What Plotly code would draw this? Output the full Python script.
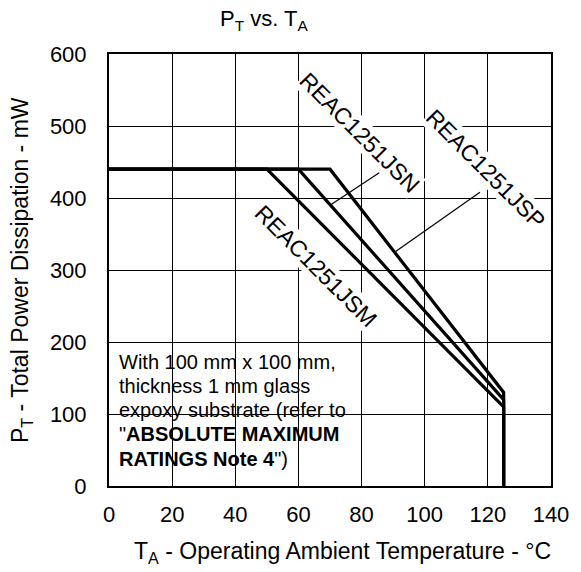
import plotly.graph_objects as go

# ---- data ----
series_names = ["REAC1251JSM", "REAC1251JSN", "REAC1251JSP"]
knee_temp = [50, 60, 70]          # °C where derating starts
p_max = 440                       # mW flat region
end_temp = 125                    # °C
p_at_end = [110, 120, 130]        # mW at 125 °C before drop
x_ticks = [0, 20, 40, 60, 80, 100, 120, 140]
y_ticks = [0, 100, 200, 300, 400, 500, 600]

FONT = "Liberation Sans, Arial, sans-serif"

fig = go.Figure()
for name, k, pe in zip(series_names, knee_temp, p_at_end):
    fig.add_trace(go.Scatter(
        x=[0, k, end_temp, end_temp],
        y=[p_max, p_max, pe, 0],
        mode="lines", name=name,
        line=dict(color="black", width=3.2),
        showlegend=False, hoverinfo="skip"))

# white box behind the note
fig.add_shape(type="rect", xref="x", yref="y", x0=0, x1=79, y0=3, y1=197,
              fillcolor="white", line=dict(width=0), layer="below")

note_lines = [
    "With 100 mm x 100 mm,",
    "thickness 1 mm glass",
    "expoxy substrate (refer to",
    "\"<b>ABSOLUTE MAXIMUM</b>",
    "<b>RATINGS Note 4</b>\")",
]
note_y = [172, 139, 105, 72, 38]
for t, yv in zip(note_lines, note_y):
    fig.add_annotation(x=2.5, y=yv, xref="x", yref="y", text=t, showarrow=False,
                       xanchor="left", yanchor="middle",
                       font=dict(family=FONT, size=20, color="black"))

# rotated series labels
labels = [
    ("REAC1251JSN", 79.5, 490),
    ("REAC1251JSP", 119.3, 440),
    ("REAC1251JSM", 65.5, 305),
]
for t, xv, yv in labels:
    fig.add_annotation(x=xv, y=yv, xref="x", yref="y", text=t, showarrow=False,
                       textangle=45, bgcolor="white", borderpad=0,
                       font=dict(family=FONT, size=23, color="black"))

# leader lines
fig.add_shape(type="line", xref="x", yref="y", x0=85.6, y0=435, x1=70, y1=390,
              line=dict(color="black", width=1.2))
fig.add_shape(type="line", xref="x", yref="y", x0=117.5, y0=408, x1=90.9, y1=326,
              line=dict(color="black", width=1.2))

# title & axis titles
fig.add_annotation(x=0.35, y=1.079, xref="paper", yref="paper",
                   text="P<sub>T</sub> vs. T<sub>A</sub>", showarrow=False,
                   xanchor="center", yanchor="middle",
                   font=dict(family=FONT, size=22, color="black"))
fig.add_annotation(x=0.529, y=-0.153, xref="paper", yref="paper",
                   text="T<sub>A</sub> - Operating Ambient Temperature - °C",
                   showarrow=False, xanchor="center", yanchor="middle",
                   font=dict(family=FONT, size=23, color="black"))
fig.add_annotation(x=-0.199, y=0.5, xref="paper", yref="paper",
                   text="P<sub>T</sub> - Total Power Dissipation - mW",
                   showarrow=False, textangle=-90, xanchor="center", yanchor="middle",
                   font=dict(family=FONT, size=23, color="black"))

fig.update_layout(
    width=581, height=572,
    margin=dict(l=109, r=24, t=54, b=86),
    paper_bgcolor="white", plot_bgcolor="white",
    font=dict(family=FONT, size=22, color="black"),
)
fig.update_xaxes(range=[0, 140], tickvals=x_ticks, showgrid=True,
                 gridcolor="black", gridwidth=1.3, zeroline=False,
                 showline=True, linecolor="black", linewidth=2, mirror=True,
                 ticks="outside", ticklen=8, tickcolor="rgba(0,0,0,0)",
                 tickfont=dict(family=FONT, size=22, color="black"))
fig.update_yaxes(range=[0, 600], tickvals=y_ticks, showgrid=True,
                 gridcolor="black", gridwidth=1.3, zeroline=False,
                 showline=True, linecolor="black", linewidth=2, mirror=True,
                 ticks="outside", ticklen=16, tickcolor="rgba(0,0,0,0)",
                 tickfont=dict(family=FONT, size=22, color="black"))

fig.write_html("out.html")
